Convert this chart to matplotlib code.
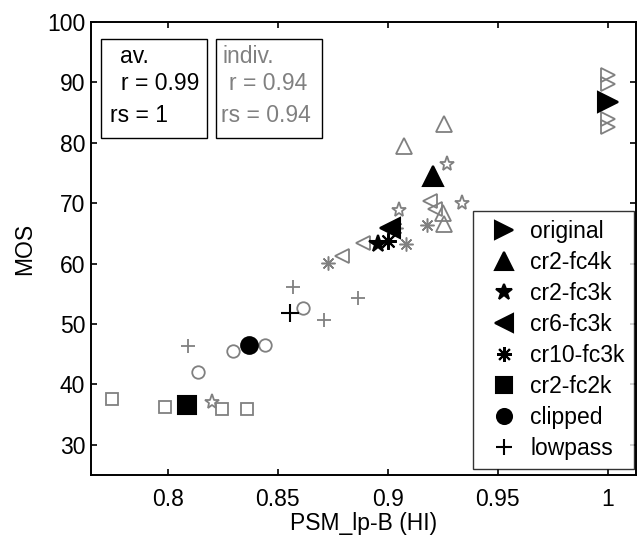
import matplotlib
matplotlib.use('Agg')
import matplotlib.pyplot as plt
from matplotlib.patches import Rectangle

plt.rcParams['font.family'] = ['Liberation Sans', 'DejaVu Sans']

conditions = ['original', 'cr2-fc4k', 'cr2-fc3k', 'cr6-fc3k',
              'cr10-fc3k', 'cr2-fc2k', 'clipped', 'lowpass']

# averages per condition
avg_psm = [1.0, 0.9205, 0.8955, 0.901, 0.900, 0.8086, 0.8368, 0.8555]
avg_mos = [86.7, 74.5, 63.2, 65.9, 63.7, 36.6, 46.6, 51.9]

# individual items, 4 per condition
ind_psm = [
    [1.0, 1.0, 1.0, 1.0],
    [0.9255, 0.9073, 0.925, 0.9255],
    [0.9268, 0.9336, 0.905, 0.82],
    [0.919, 0.9214, 0.8886, 0.879],
    [0.8727, 0.9177, 0.9082, 0.9036],
    [0.7745, 0.7986, 0.8245, 0.836],
    [0.8136, 0.8295, 0.844, 0.8614],
    [0.809, 0.8568, 0.871, 0.8864],
]
ind_mos = [
    [91.2, 89.8, 84.0, 82.6],
    [83.2, 79.4, 68.4, 66.6],
    [76.5, 70.1, 68.9, 37.1],
    [70.4, 69.1, 63.4, 61.3],
    [60.1, 66.4, 63.2, 65.9],
    [37.6, 36.3, 36.0, 36.0],
    [42.0, 45.6, 46.6, 52.6],
    [46.4, 56.1, 50.6, 54.3],
]

xticks = [0.8, 0.85, 0.9, 0.95, 1.0]
xticklabels = ['0.8', '0.85', '0.9', '0.95', '1']
yticks = [30, 40, 50, 60, 70, 80, 90, 100]

markers = ['>', '^', '*', '<', (8, 2, 0), 's', 'o', '+']
big_ms = [14.5, 15, 13, 14.5, 12, 12.5, 12, 12.5]
small_ms = [10, 11, 11, 10.5, 10, 9, 9, 10]
small_mew = [1.3, 1.3, 1.3, 1.3, 1.1, 1.3, 1.3, 1.3]
gray = '#808080'
fs = 16.5

fig = plt.figure(figsize=(6.41, 5.35), dpi=100)
ax = fig.add_axes([0.1415, 0.1121, 0.8507, 0.8467])

for i, name in enumerate(conditions):
    ax.plot(ind_psm[i], ind_mos[i], linestyle='none', marker=markers[i],
            ms=small_ms[i], mec=gray, mfc='none', mew=small_mew[i])

for i, name in enumerate(conditions):
    ax.plot([avg_psm[i]], [avg_mos[i]], linestyle='none', marker=markers[i],
            ms=big_ms[i], mec='black', mfc='black', mew=1.5, label=name)

ax.set_xlim(0.765, 1.0128)
ax.set_ylim(25, 100)
ax.set_xticks(xticks)
ax.set_xticklabels(xticklabels)
ax.set_yticks(yticks)
ax.tick_params(direction='in', top=True, right=True, length=4,
               width=1.2, labelsize=fs)
ax.tick_params(axis='x', pad=9)
ax.tick_params(axis='y', pad=4)
for sp in ax.spines.values():
    sp.set_linewidth(1.4)

ax.set_xlabel('PSM_lp-B (HI)', fontsize=fs, labelpad=1)
ax.set_ylabel('MOS', fontsize=fs, labelpad=8)

# correlation boxes
ax.add_patch(Rectangle((0.0185, 0.744), 0.194, 0.218, transform=ax.transAxes,
                       fill=False, ec='black', lw=1.0))
ax.add_patch(Rectangle((0.2295, 0.744), 0.194, 0.218, transform=ax.transAxes,
                       fill=False, ec='black', lw=1.0))
ax.text(0.0545, 0.909, 'av.', transform=ax.transAxes, fontsize=fs, va='baseline')
ax.text(0.056, 0.851, 'r = 0.99', transform=ax.transAxes, fontsize=fs, va='baseline')
ax.text(0.035, 0.780, 'rs = 1', transform=ax.transAxes, fontsize=fs, va='baseline')
ax.text(0.2417, 0.909, 'indiv.', transform=ax.transAxes, fontsize=fs,
        va='baseline', color=gray)
ax.text(0.2538, 0.851, 'r = 0.94', transform=ax.transAxes, fontsize=fs,
        va='baseline', color=gray)
ax.text(0.2398, 0.780, 'rs = 0.94', transform=ax.transAxes, fontsize=fs,
        va='baseline', color=gray)

leg = ax.legend(loc='lower right', bbox_to_anchor=(0.9963, 0.0132),
                borderaxespad=0, fontsize=fs, frameon=True, fancybox=False,
                edgecolor='black', labelspacing=0.35, handlelength=1.9,
                handletextpad=0.2, borderpad=0.4, markerscale=0.9)
leg.get_frame().set_linewidth(1.0)

fig.savefig('out.png', dpi=100)
